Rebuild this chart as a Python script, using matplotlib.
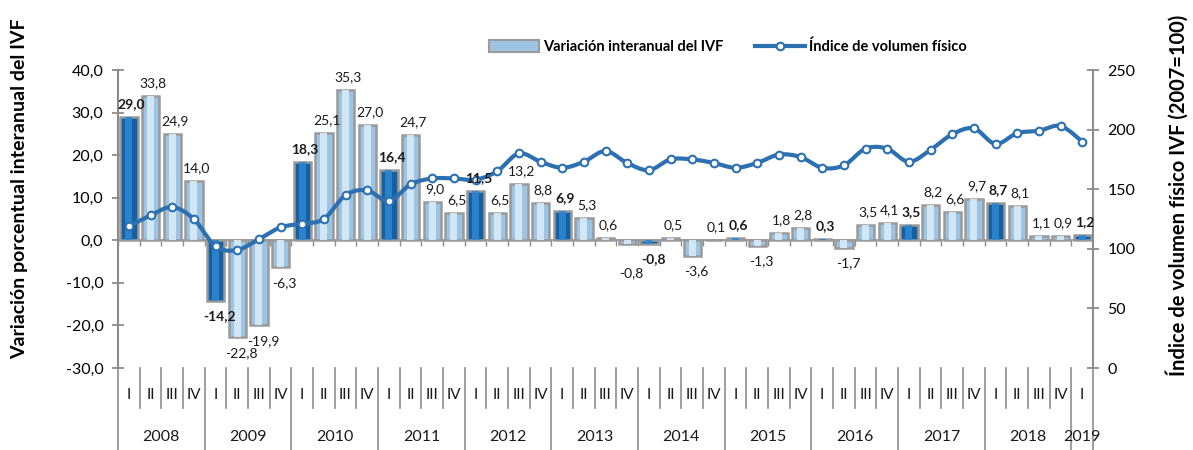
import matplotlib
matplotlib.use("Agg")
import matplotlib.pyplot as plt
import matplotlib.transforms as mtransforms
from matplotlib.patches import Patch
from matplotlib.lines import Line2D
import numpy as np

plt.rcParams['font.family'] = ['Lato', 'DejaVu Sans']

# ---------------- data ----------------
years = ["2008", "2009", "2010", "2011", "2012", "2013", "2014", "2015",
         "2016", "2017", "2018", "2019"]
quarters = ["I", "II", "III", "IV"]
variacion = [29.0, 33.8, 24.9, 14.0,
             -14.2, -22.8, -19.9, -6.3,
             18.3, 25.1, 35.3, 27.0,
             16.4, 24.7, 9.0, 6.5,
             11.5, 6.5, 13.2, 8.8,
             6.9, 5.3, 0.6, -0.8,
             -0.8, 0.5, -3.6, 0.1,
             0.6, -1.3, 1.8, 2.8,
             0.3, -1.7, 3.5, 4.1,
             3.5, 8.2, 6.6, 9.7,
             8.7, 8.1, 1.1, 0.9,
             1.2]
indice = [119, 128, 135, 125,
          102, 99, 108, 118,
          121, 125, 145, 149,
          140, 154, 159, 159,
          158, 165, 180, 173,
          168, 173, 182, 172,
          166, 175, 175, 172,
          168, 172, 179, 177,
          168, 170, 184, 184,
          173, 183, 196, 201,
          188, 197, 199, 203,
          190]
left_ticks = [-30, -20, -10, 0, 10, 20, 30, 40]
right_ticks = [0, 50, 100, 150, 200, 250]

n = len(variacion)
x = np.arange(n)
q_labels = [quarters[i % 4] for i in range(n)]
is_q1 = [i % 4 == 0 for i in range(n)]

# ---------------- figure ----------------
W, H = 1193, 450
TOP, BOT, LEFT, RIGHT = 70, 368, 118, 1093
fig = plt.figure(figsize=(W / 100, H / 100), dpi=100)
ax = fig.add_axes([LEFT / W, 1 - BOT / H, (RIGHT - LEFT) / W, (BOT - TOP) / H])
ax2 = ax.twinx()

grey = '#8c8c8c'
dark_base, dark_hi = '#1560a3', '#2f86cf'
light_base, light_hi = '#9dc4e3', '#d9ebf8'

bw = 0.8
base_cols = [dark_base if q else light_base for q in is_q1]
hi_cols = [dark_hi if q else light_hi for q in is_q1]
ax.bar(x, variacion, width=bw, color=base_cols, edgecolor='#9a9a9a',
       linewidth=1.8, zorder=2)
ax.bar(x, variacion, width=bw * 0.42, color=hi_cols, linewidth=0, zorder=2.1,
       alpha=0.9)

ax.set_xlim(-0.5, n - 0.5)
ax.set_ylim(-30, 40)
ax2.set_ylim(0, 250)

# zero line with small ticks
ax.axhline(0, color=grey, lw=1.2, zorder=1.5)
ax.vlines(np.arange(n + 1) - 0.5, -1.4, 0, color=grey, lw=1.0, zorder=1.5)

# bar value labels (drawn on top axes so they sit above the line)
for i, (xi, v, q) in enumerate(zip(x, variacion, is_q1)):
    txt = f"{v:.1f}".replace('.', ',')
    fw = 'bold' if q else 'normal'
    if v >= 0:
        ax2.annotate(txt, (xi, v), xycoords=ax.transData, xytext=(2, 5),
                     textcoords='offset points', ha='center', va='bottom',
                     fontsize=10, fontweight=fw, color='#1a1a1a', zorder=6)
    else:
        dy = -7
        if i + 1 < n and -2 < variacion[i + 1] < 0 and v > -2:
            dy -= 10
        ax2.annotate(txt, (xi, v), xycoords=ax.transData, xytext=(3, dy),
                     textcoords='offset points', ha='center', va='top',
                     fontsize=10, fontweight=fw, color='#1a1a1a', zorder=6)

# smooth line (Catmull-Rom through the data points)
def catmull_rom(xs, ys, steps=16):
    P = np.column_stack([xs, ys]).astype(float)
    P = np.vstack([P[0], P, P[-1]])
    out = []
    for i in range(1, len(P) - 2):
        p0, p1, p2, p3 = P[i - 1], P[i], P[i + 1], P[i + 2]
        t = np.linspace(0, 1, steps, endpoint=False)[:, None]
        c = 0.5 * ((2 * p1) + (-p0 + p2) * t +
                   (2 * p0 - 5 * p1 + 4 * p2 - p3) * t ** 2 +
                   (-p0 + 3 * p1 - 3 * p2 + p3) * t ** 3)
        out.append(c)
    out.append(P[-2][None, :])
    out = np.vstack(out)
    return out[:, 0], out[:, 1]

line_col = '#2c70b1'
sx, sy = catmull_rom(x, indice)
ax2.plot(sx, sy, color=line_col, lw=3, zorder=3, solid_capstyle='round')
ax2.plot(x, indice, linestyle='none', marker='o', markersize=5.5,
         markerfacecolor='white', markeredgecolor=line_col,
         markeredgewidth=1.5, zorder=4)

# axes styling
for a in (ax, ax2):
    for s in ['top', 'bottom']:
        a.spines[s].set_visible(False)
ax.spines['right'].set_visible(False)
ax2.spines['left'].set_visible(False)
ax.spines['left'].set_color(grey)
ax.spines['left'].set_linewidth(1.5)
ax2.spines['right'].set_color(grey)
ax2.spines['right'].set_linewidth(1.5)

ax.set_yticks(left_ticks)
ax.set_yticklabels([f"{t:.1f}".replace('.', ',') for t in left_ticks],
                   fontsize=11.5)
ax.tick_params(axis='y', direction='inout', length=9, width=1.3, color=grey,
               pad=6)
ax2.set_yticks(right_ticks)
ax2.set_yticklabels([str(t) for t in right_ticks], fontsize=11.5)
ax2.tick_params(axis='y', direction='inout', length=9, width=1.3, color=grey,
                pad=6)
ax.set_xticks([])
ax2.set_xticks([])

ax.set_ylabel("Variación porcentual interanual del IVF", fontsize=14,
              fontweight='bold')
ax2.set_ylabel("Índice de volumen físico IVF (2007=100)", fontsize=14.5,
               fontweight='bold')
ax.yaxis.set_label_coords((28 - LEFT) / (RIGHT - LEFT), (BOT - 189) / (BOT - TOP))
ax2.yaxis.set_label_coords((1166 - LEFT) / (RIGHT - LEFT),
                           (BOT - 195) / (BOT - TOP))

# category axis (quarters and years)
trans = mtransforms.blended_transform_factory(ax.transData, ax.transAxes)
qsep = -(408 - BOT) / (BOT - TOP)
ysep = -(450 - BOT) / (BOT - TOP)
for b in np.arange(n + 1) - 0.5:
    full = (int(b + 0.5) % 4 == 0) or b >= n - 1.5
    ax.plot([b, b], [0, ysep if full else qsep], transform=trans, color=grey,
            lw=1.2, clip_on=False)
for xi, ql in zip(x, q_labels):
    ax.text(xi, -(395 - BOT) / (BOT - TOP), ql, transform=trans, ha='center',
            va='center', fontsize=11, color='#1a1a1a')
for k, yr in enumerate(years):
    idx = [i for i in range(n) if i // 4 == k]
    cx = np.mean(idx)
    ax.text(cx, -(437 - BOT) / (BOT - TOP), yr, transform=trans, ha='center',
            va='center', fontsize=11.5, color='#1a1a1a')

# legend
handles = [Patch(facecolor=light_base, edgecolor='#9a9a9a', linewidth=1.5),
           Line2D([0], [0], color=line_col, lw=3, marker='o', markersize=5.5,
                  markerfacecolor='white', markeredgecolor=line_col,
                  markeredgewidth=1.5)]
fig.legend(handles, ["Variación interanual del IVF", "Índice de volumen físico"],
           loc='center', bbox_to_anchor=(728 / W, 1 - 47 / H), ncol=2,
           frameon=False, prop={'weight': 'bold', 'size': 10.5},
           handlelength=3.4, handleheight=0.9, columnspacing=2.2,
           handletextpad=0.3)

fig.savefig("out.png", dpi=100)
